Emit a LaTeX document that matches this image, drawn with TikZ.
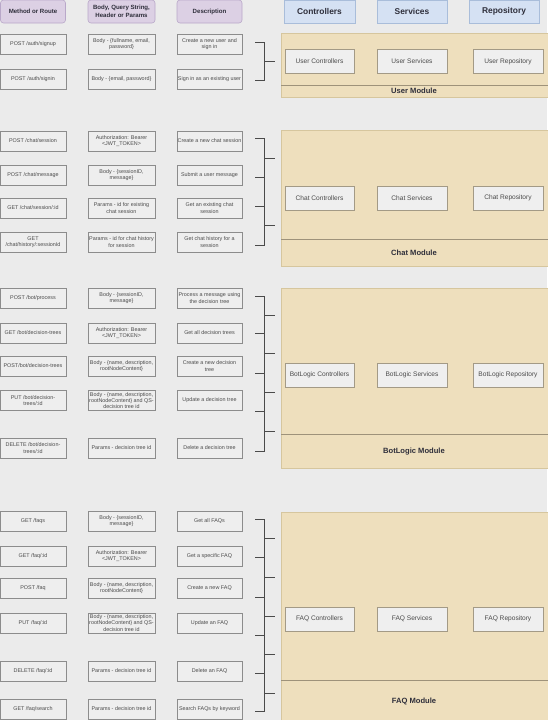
\documentclass[tikz,border=0pt]{standalone}
\usepackage{fontspec}
\setmainfont{Liberation Sans}
\definecolor{bg}{HTML}{EBEBEB}
\definecolor{boxfill}{HTML}{EEEEEE}
\definecolor{boxline}{HTML}{8C8C8C}
\definecolor{txt}{HTML}{4A4A4A}
\definecolor{hdtxt}{HTML}{2E2E3A}
\definecolor{pfill}{HTML}{DCD0E4}
\definecolor{pline}{HTML}{B9A8C9}
\definecolor{bfill}{HTML}{D5E1F3}
\definecolor{bline}{HTML}{A9BDDA}
\definecolor{modfill}{HTML}{EEDFBD}
\definecolor{modline}{HTML}{D6C69E}
\definecolor{divline}{HTML}{9E927A}
\definecolor{innerfill}{HTML}{EFEFEF}
\definecolor{innerline}{HTML}{A39A86}
\definecolor{brk}{HTML}{4A4A4A}
\begin{document}
\begin{tikzpicture}[x=1pt,y=-1pt,
  rowbox/.style={draw=boxline, fill=boxfill, line width=0.6pt, minimum height=20pt, inner sep=0.5pt, align=center, font=\fontsize{5.4}{6.4}\selectfont, text=txt},
  mcol/.style={rowbox, minimum width=66pt},
  bcol/.style={rowbox, minimum width=67pt},
  dcol/.style={rowbox, minimum width=65pt},
  phead/.style={draw=pline, fill=pfill, line width=0.6pt, rounded corners=3pt, minimum height=23pt, inner sep=1pt, align=center, font=\bfseries\fontsize{6.1}{7.4}\selectfont, text=hdtxt},
  bhead/.style={draw=bline, fill=bfill, line width=0.6pt, minimum height=23pt, inner sep=1pt, font=\bfseries\fontsize{8.4}{10}\selectfont, text=hdtxt},
  modrect/.style={draw=modline, fill=modfill, line width=0.6pt},
  divider/.style={draw=divline, line width=0.7pt},
  modlabel/.style={font=\bfseries\fontsize{7.6}{9}\selectfont, text=hdtxt},
  innerbox/.style={draw=innerline, fill=innerfill, line width=0.6pt, minimum height=24pt, minimum width=70pt, inner sep=1pt, font=\fontsize{6.6}{8}\selectfont, text=txt},
  brack/.style={draw=brk, line width=0.8pt}
]
\useasboundingbox[fill=bg] (0,0) rectangle (547,720);

% ---------- headers ----------
\node[phead, minimum width=65pt] (hm) at (33,11.5) {Method or Route};
\node[phead, minimum width=67pt] (hb) at (121.5,11.5) {Body, Query String,\\Header or Params};
\node[phead, minimum width=65pt] (hd) at (209.5,11.5) {Description};
\node[bhead, minimum width=71pt] (hc) at (319.5,11.5) {Controllers};
\node[bhead, minimum width=70pt] (hs) at (412,11.5) {Services};
\node[bhead, minimum width=70pt] (hr) at (504,11.5) {Repository};

% ---------- module containers ----------
\path[modrect] (281,33) rectangle (548,97);
\path[divider] (281,85) -- (548,85);
\node[modlabel] (um) at (414,91) {User Module};

\path[modrect] (281,130) rectangle (548,266);
\path[divider] (281,239) -- (548,239);
\node[modlabel] (cm) at (414,253) {Chat Module};

\path[modrect] (281,288) rectangle (548,468);
\path[divider] (281,434) -- (548,434);
\node[modlabel] (bm) at (414,452) {BotLogic Module};

\path[modrect] (281,512) rectangle (548,721);
\path[divider] (281,680) -- (548,680);
\node[modlabel] (fm) at (414,701) {FAQ Module};

% ---------- inner boxes ----------
\node[innerbox, minimum width=69pt] (uc) at (319.5,61.5) {User Controllers};
\node[innerbox] (us) at (412,61.5) {User Services};
\node[innerbox] (ur) at (508,61.5) {User Repository};

\node[innerbox, minimum width=69pt] (cc) at (319.5,198) {Chat Controllers};
\node[innerbox] (cs) at (412,198) {Chat Services};
\node[innerbox] (cr) at (508,198) {Chat Repository};

\node[innerbox, minimum width=69pt] (bc) at (319.5,375) {BotLogic Controllers};
\node[innerbox] (bs) at (412,375) {BotLogic Services};
\node[innerbox] (br) at (508,375) {BotLogic Repository};

\node[innerbox, minimum width=69pt] (fc) at (319.5,619) {FAQ Controllers};
\node[innerbox] (fs) at (412,619) {FAQ Services};
\node[innerbox] (fr) at (508,619) {FAQ Repository};

% ---------- user rows ----------
\node[mcol] (u1m) at (33,44) {POST /auth/signup};
\node[bcol] (u1b) at (121.5,44) {Body - \{fullname, email,\\password\}};
\node[dcol] (u1d) at (209.5,44) {Create a new user and\\sign in};
\node[mcol] (u2m) at (33,79) {POST /auth/signin};
\node[bcol] (u2b) at (121.5,79) {Body - \{email, password\}};
\node[dcol] (u2d) at (209.5,79) {Sign in as an existing user};

% ---------- chat rows ----------
\node[mcol] (c1m) at (33,141) {POST /chat/session};
\node[bcol] (c1b) at (121.5,141) {Authorization: Bearer\\<JWT\_TOKEN>};
\node[dcol] (c1d) at (209.5,141) {Create a new chat session};
\node[mcol] (c2m) at (33,175) {POST /chat/message};
\node[bcol] (c2b) at (121.5,175) {Body - \{sessionID,\\message\}};
\node[dcol] (c2d) at (209.5,175) {Submit a user message};
\node[mcol] (c3m) at (33,208) {GET /chat/session/:id};
\node[bcol] (c3b) at (121.5,208) {Params - id for existing\\chat session};
\node[dcol] (c3d) at (209.5,208) {Get an existing chat\\session};
\node[mcol] (c4m) at (33,242) {GET\\/chat/history/:sessionId};
\node[bcol] (c4b) at (121.5,242) {Params - id for chat history\\for session};
\node[dcol] (c4d) at (209.5,242) {Get chat history for a\\session};

% ---------- bot rows ----------
\node[mcol] (b1m) at (33,298) {POST /bot/process};
\node[bcol] (b1b) at (121.5,298) {Body - \{sessionID,\\message\}};
\node[dcol] (b1d) at (209.5,298) {Process a message using\\the decision tree};
\node[mcol] (b2m) at (33,333) {GET /bot/decision-trees};
\node[bcol] (b2b) at (121.5,333) {Authorization: Bearer\\<JWT\_TOKEN>};
\node[dcol] (b2d) at (209.5,333) {Get all decision trees};
\node[mcol] (b3m) at (33,366) {POST/bot/decision-trees};
\node[bcol] (b3b) at (121.5,366) {Body - \{name, description,\\rootNodeContent\}};
\node[dcol] (b3d) at (209.5,366) {Create a new decision\\tree};
\node[mcol] (b4m) at (33,400.5) {PUT /bot/decision-\\trees/:id};
\node[bcol] (b4b) at (121.5,400.5) {Body - \{name, description,\\rootNodeContent\} and QS-\\decision tree id};
\node[dcol] (b4d) at (209.5,400.5) {Update a decision tree};
\node[mcol] (b5m) at (33,448) {DELETE /bot/decision-\\trees/:id};
\node[bcol] (b5b) at (121.5,448) {Params - decision tree id};
\node[dcol] (b5d) at (209.5,448) {Delete a decision tree};

% ---------- faq rows ----------
\node[mcol] (f1m) at (33,521) {GET /faqs};
\node[bcol] (f1b) at (121.5,521) {Body - \{sessionID,\\message\}};
\node[dcol] (f1d) at (209.5,521) {Get all FAQs};
\node[mcol] (f2m) at (33,556) {GET /faq/:id};
\node[bcol] (f2b) at (121.5,556) {Authorization: Bearer\\<JWT\_TOKEN>};
\node[dcol] (f2d) at (209.5,556) {Get a specific FAQ};
\node[mcol] (f3m) at (33,588) {POST /faq};
\node[bcol] (f3b) at (121.5,588) {Body - \{name, description,\\rootNodeContent\}};
\node[dcol] (f3d) at (209.5,588) {Create a new FAQ};
\node[mcol] (f4m) at (33,623) {PUT /faq/:id};
\node[bcol] (f4b) at (121.5,623) {Body - \{name, description,\\rootNodeContent\} and QS-\\decision tree id};
\node[dcol] (f4d) at (209.5,623) {Update an FAQ};
\node[mcol] (f5m) at (33,671) {DELETE /faq/:id};
\node[bcol] (f5b) at (121.5,671) {Params - decision tree id};
\node[dcol] (f5d) at (209.5,671) {Delete an FAQ};
\node[mcol] (f6m) at (33,709) {GET /faq/search};
\node[bcol] (f6b) at (121.5,709) {Params - decision tree id};
\node[dcol] (f6d) at (209.5,709) {Search FAQs by keyword};

% ---------- brackets ----------
% user
\path[brack] (255,42) -- (264,42) -- (264,80) -- (255,80);
\path[brack] (264,61) -- (275,61);
% chat
\path[brack] (255,138) -- (264,138) -- (264,245) -- (255,245);
\foreach \yy in {177,206} \path[brack] (255,\yy) -- (264,\yy);
\foreach \yy in {158,225} \path[brack] (264,\yy) -- (275,\yy);
% bot
\path[brack] (255,296) -- (264,296) -- (264,451) -- (255,451);
\foreach \yy in {333,373,411} \path[brack] (255,\yy) -- (264,\yy);
\foreach \yy in {315,353,392,431} \path[brack] (264,\yy) -- (275,\yy);
% faq
\path[brack] (255,519) -- (264,519) -- (264,711) -- (255,711);
\foreach \yy in {557,597,635,673} \path[brack] (255,\yy) -- (264,\yy);
\foreach \yy in {538,577,616,654,693} \path[brack] (264,\yy) -- (275,\yy);
\end{tikzpicture}
\end{document}
